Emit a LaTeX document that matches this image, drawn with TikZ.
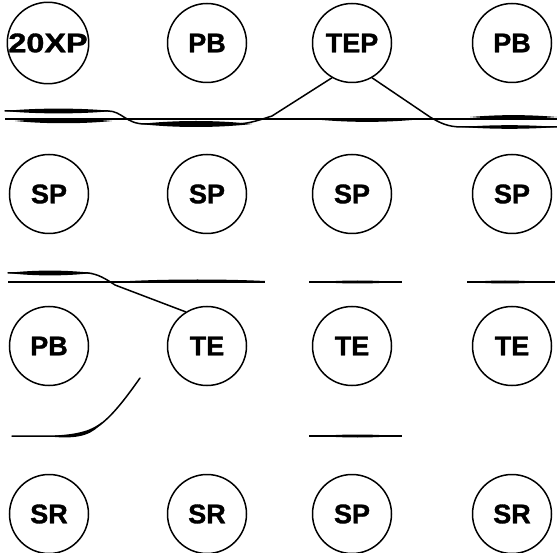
\documentclass[tikz,border=0pt]{standalone}
\usepackage{fontspec}
\setmainfont{Liberation Sans}[BoldFeatures={FakeBold=1.2}]
\newcommand\lensfill[5]{\fill (#1,#3) .. controls +(#5,-#4) and +(-#5,-#4) .. (#2,#3) .. controls +(-#5,#4) and +(#5,#4) .. (#1,#3);}
\begin{document}
\begin{tikzpicture}[x=1pt,y=-1pt,
  st/.style={circle,draw,line width=1.5pt,minimum size=79pt,inner sep=0pt,
    font=\fontsize{27}{27}\selectfont\bfseries},
  sig/.style={line width=1.5pt,line cap=round},
  base/.style={line width=1.1pt}]
\useasboundingbox (0,0) rectangle (557,553);
% row 1
\node[st] (a1) at (48,43) {\scalebox{1.2}[1]{20XP}};
\node[st] (b1) at (207,43) {PB};
\node[st] (c1) at (352,43) {TEP};
\node[st] (d1) at (512,43) {PB};
% row 2
\node[st] (a2) at (49,194) {SP};
\node[st] (b2) at (207,194) {SP};
\node[st] (c2) at (352,194) {SP};
\node[st] (d2) at (512,194) {SP};
% row 3
\node[st] (a3) at (49,346) {PB};
\node[st] (b3) at (207,346) {TE};
\node[st] (c3) at (352,346) {TE};
\node[st] (d3) at (512,346) {TE};
% row 4
\node[st] (a4) at (49,514) {SR};
\node[st] (b4) at (207,514) {SR};
\node[st] (c4) at (352,514) {SP};
\node[st] (d4) at (512,514) {SR};
% ---- signals under row 1
\draw[base] (5,119) -- (557,119);
\draw[sig] (5,111) -- (108,111) .. controls (122,111) and (126,124) .. (145,124)
  -- (235,124) .. controls (250,124) and (262,119) .. (272,116) -- (c1.240);
\draw[sig] (c1.300) -- (430,117) .. controls (440,123) and (448,127) .. (462,127) -- (557,127);
\lensfill{5}{112}{111}{3.2}{30}
\lensfill{15}{112}{121}{3}{30}
\lensfill{140}{252}{124}{4}{35}
\lensfill{322}{412}{120}{2.5}{30}
\lensfill{470}{557}{117}{2.5}{30}
\lensfill{462}{557}{127}{2.4}{30}
% ---- signals under row 2
\draw[base] (8,282) -- (265,282);
\draw[sig] (8,273) -- (88,273) .. controls (98,274) and (106,279) .. (115,285) -- (b3.122);
\lensfill{8}{92}{273}{3.2}{25}
\lensfill{130}{265}{281}{2}{40}
\draw[base] (309,282) -- (402,282);
\lensfill{320}{395}{282}{2}{25}
\draw[base] (467,282) -- (555,282);
\lensfill{470}{540}{282}{2}{25}
% ---- signals under row 3
\draw[sig] (12,436) -- (70,436) .. controls (95,435) and (112,418) .. (140,378);
\fill (55,437) .. controls (80,439) and (94,434) .. (102,422) .. controls (92,430) and (80,434) .. (55,435.5);
\draw[base] (309,436) -- (402,436);
\lensfill{320}{395}{436}{2}{25}
\end{tikzpicture}
\end{document}
